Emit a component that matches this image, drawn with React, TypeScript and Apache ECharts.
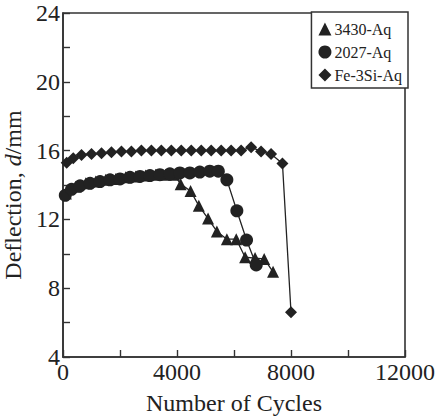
import React, { useEffect, useRef } from "react";
import * as echarts from "echarts";

// Deflection vs number of cycles for three alloys
const triCycles = [100, 450, 800, 1150, 1500, 1850, 2200, 2550, 2900, 3250, 3600, 3900, 4130, 4475, 4765, 5090, 5400, 5750, 6080, 6390, 6740, 7060, 7370];
const triDefl = [13.5, 13.9, 14.1, 14.2, 14.3, 14.35, 14.45, 14.5, 14.55, 14.6, 14.6, 14.6, 14.05, 13.65, 12.8, 12.05, 11.3, 10.85, 10.85, 9.8, 9.75, 9.7, 8.95];

const cirCycles = [80, 300, 600, 950, 1300, 1650, 2000, 2350, 2700, 3050, 3400, 3750, 4100, 4450, 4800, 5150, 5450, 5750, 6100, 6440, 6780];
const cirDefl = [13.4, 13.75, 13.95, 14.1, 14.2, 14.3, 14.35, 14.45, 14.5, 14.55, 14.6, 14.65, 14.7, 14.7, 14.75, 14.8, 14.8, 14.3, 12.5, 10.8, 9.35];

const diaCycles = [130, 360, 650, 1000, 1350, 1700, 2050, 2400, 2750, 3100, 3450, 3800, 4150, 4500, 4850, 5200, 5550, 5900, 6250, 6600, 6950, 7300, 7700, 8000];
const diaDefl = [15.3, 15.55, 15.75, 15.8, 15.85, 15.9, 15.95, 15.95, 16.0, 16.0, 16.0, 16.0, 16.0, 16.0, 16.0, 16.0, 16.0, 16.0, 16.0, 16.2, 15.95, 15.8, 15.25, 6.6];

const seriesNames = ["3430-Aq", "2027-Aq", "Fe-3Si-Aq"];
const seriesSymbols = ["triangle", "circle", "diamond"];

const INK = "#222";
const FONT = "Liberation Serif";

const pairs = (xs: number[], ys: number[]) => xs.map((x, i) => [x, ys[i]]);

export default function App() {
  const ref = useRef<HTMLDivElement>(null);

  useEffect(() => {
    document.body.style.margin = "0";
    const chart = echarts.init(ref.current!, null, { renderer: "svg" });
    const data = [pairs(triCycles, triDefl), pairs(cirCycles, cirDefl), pairs(diaCycles, diaDefl)];
    const sizes = [12, 13, 12];

    chart.setOption({
      animation: false,
      textStyle: { fontFamily: FONT },
      grid: {
        left: 63,
        right: 30,
        top: 13,
        bottom: 63,
        show: true,
        borderColor: "#333",
        borderWidth: 1.6,
        backgroundColor: "transparent",
      },
      legend: {
        orient: "vertical",
        right: 30,
        top: 12,
        backgroundColor: "#fff",
        borderColor: "#333",
        borderWidth: 1.5,
        padding: [9, 6, 5, 7],
        itemGap: 7,
        itemWidth: 13,
        itemHeight: 13,
        textStyle: { fontFamily: FONT, fontSize: 16, color: INK, padding: [0, 0, 0, -2] },
        data: seriesNames.map((n, i) => ({ name: n, icon: seriesSymbols[i], itemStyle: { color: INK } })),
      },
      xAxis: {
        type: "value",
        min: 0,
        max: 12000,
        interval: 2000,
        name: "Number of Cycles",
        nameLocation: "middle",
        nameGap: 34,
        nameTextStyle: { fontFamily: FONT, fontSize: 24, color: INK },
        axisLine: { show: true, lineStyle: { color: "#333", width: 1.6 } },
        axisTick: { show: true, inside: true, length: 7, lineStyle: { color: "#333", width: 1.4 } },
        axisLabel: {
          fontFamily: FONT,
          fontSize: 24,
          color: INK,
          margin: 3,
          formatter: (v: number) => (v % 4000 === 0 ? String(v) : ""),
        },
        splitLine: { show: false },
      },
      yAxis: {
        type: "value",
        min: 4,
        max: 24,
        interval: 2,
        axisLine: { show: true, lineStyle: { color: "#333", width: 1.6 } },
        axisTick: { show: true, inside: true, length: 7, lineStyle: { color: "#333", width: 1.4 } },
        axisLabel: {
          fontFamily: FONT,
          fontSize: 24,
          color: INK,
          margin: 3,
          formatter: (v: number) => (v % 4 === 0 ? String(v) : ""),
        },
        splitLine: { show: false },
      },
      graphic: [
        {
          type: "text",
          x: 13,
          y: 195,
          rotation: Math.PI / 2,
          style: {
            text: "{n|Deflection, }{i|d}{n|/mm}",
            align: "center",
            verticalAlign: "middle",
            fill: INK,
            rich: {
              n: { fontFamily: FONT, fontSize: 24, fill: INK },
              i: { fontFamily: FONT, fontSize: 24, fontStyle: "italic", fill: INK },
            },
          },
        },
      ],
      series: seriesNames.map((n, i) => ({
        name: n,
        type: "line",
        data: data[i],
        symbol: seriesSymbols[i],
        symbolSize: sizes[i],
        showSymbol: true,
        lineStyle: { color: INK, width: 1.3 },
        itemStyle: { color: INK },
        z: 3 + i,
      })),
    });

    return () => chart.dispose();
  }, []);

  return <div ref={ref} style={{ width: 438, height: 420 }} />;
}
